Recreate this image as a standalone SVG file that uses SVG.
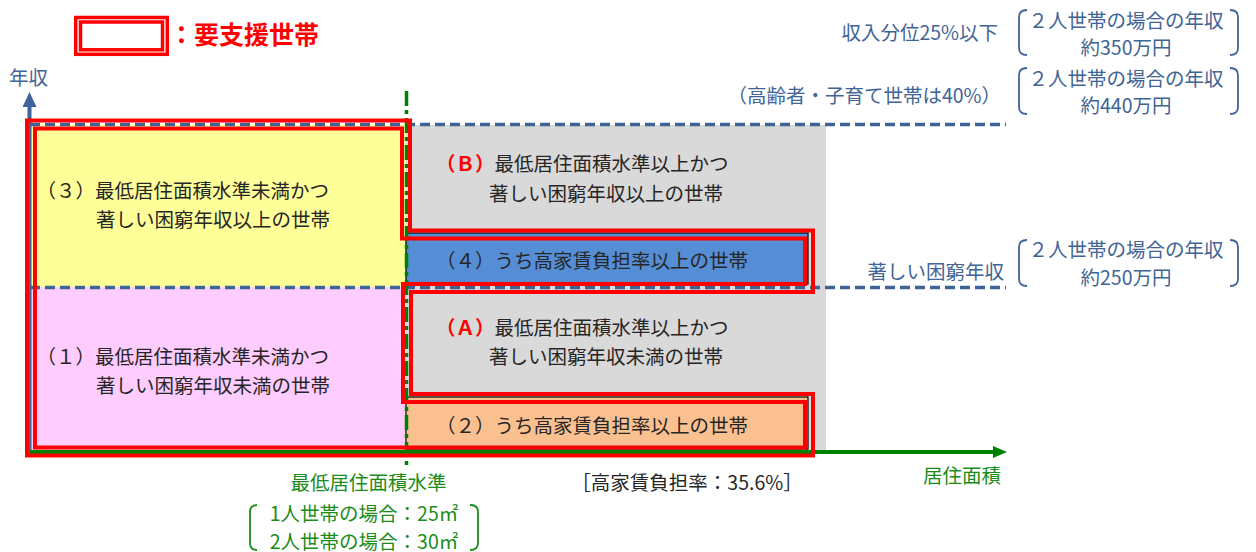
<svg xmlns="http://www.w3.org/2000/svg" width="1256" height="552" viewBox="0 0 1256 552">
<defs>
<style>
text { font-family: "Noto Sans CJK JP", "Noto Sans", sans-serif; font-size: 19.5px; }
.dk { fill: #262626; }
.bl { fill: #3f6495; }
.gr { fill: #1a8c1a; }
.rb { fill: #ff0000; font-weight: bold; }
.big { font-size: 25px; }
.end { text-anchor: end; }
.mid { text-anchor: middle; }
.red2 { fill: none; stroke: #ff0000; stroke-width: 4; stroke-linejoin: miter; }
.redl { fill: none; stroke: #ff0000; stroke-width: 3.5; }
.dash { fill: none; stroke: #3c6496; stroke-width: 3.5; stroke-dasharray: 10 5; }
.brk { fill: none; stroke: #3f6495; stroke-width: 1.8; }
.gbrk { fill: none; stroke: #1a8c1a; stroke-width: 1.8; }
.band { stroke: #000; stroke-width: 1.2; }
</style>
<marker id="arrB" viewBox="0 0 15 14" refX="0" refY="7" markerWidth="15" markerHeight="14" markerUnits="userSpaceOnUse" orient="auto">
<path d="M0,0 L15,7 L0,14 z" fill="#3c6496"/>
</marker>
<marker id="arrG" viewBox="0 0 14 12" refX="0" refY="6" markerWidth="14" markerHeight="12" markerUnits="userSpaceOnUse" orient="auto">
<path d="M0,0 L14,6 L0,12 z" fill="#008000"/>
</marker>
</defs>

<g id="legend">
<rect class="redl" x="75.7" y="17.5" width="91.6" height="36.8"/>
<rect class="redl" x="80.5" y="22" width="82" height="27.8"/>
<text class="rb big" x="169" y="43.5">：要支援世帯</text>
</g>

<g id="region-fills">
<rect x="406" y="125" width="420" height="327" fill="#d9d9d9"/>
<rect x="30" y="124.5" width="376" height="162.5" fill="#ffff99"/>
<rect x="30" y="287" width="376" height="165" fill="#ffccff"/>
</g>

<g id="region-4">
<rect class="band" x="406" y="233" width="402" height="51" fill="#558ed5"/>
</g>
<g id="region-2">
<rect class="band" x="406" y="397" width="402" height="52" fill="#fac090"/>
</g>

<g id="connectors">
<line class="dash" x1="30" y1="124.5" x2="1006" y2="124.5"/>
<line class="dash" x1="30" y1="287.5" x2="1006" y2="287.5"/>
<line x1="406.5" y1="91" x2="406.5" y2="468" stroke="#008000" stroke-width="3.5" stroke-dasharray="15 4 4 4"/>
<line x1="29.5" y1="455" x2="29.5" y2="107" stroke="#3c6496" stroke-width="4" marker-end="url(#arrB)"/>
<line x1="30" y1="452" x2="993" y2="452" stroke="#008000" stroke-width="4" marker-end="url(#arrG)"/>
</g>

<g id="support-outline">
<polygon class="red2" points="27,120.5 410,120.5 410,230.5 813,230.5 813,292 411,292 411,394 813,394 813,455.5 27,455.5"/>
<polygon class="red2" points="35,128.5 402,128.5 402,238.5 805,238.5 805,284 403,284 403,402 805,402 805,447.5 35,447.5"/>
</g>

<g id="label-3">
<text class="dk"><tspan x="36.5" y="197.5">（３）最低居住面積水準未満かつ</tspan><tspan x="96" y="226.5">著しい困窮年収以上の世帯</tspan></text>
</g>
<g id="label-1">
<text class="dk"><tspan x="36.5" y="364">（１）最低居住面積水準未満かつ</tspan><tspan x="96" y="392.5">著しい困窮年収未満の世帯</tspan></text>
</g>
<g id="label-B">
<text class="dk"><tspan x="436" y="170.5"><tspan class="rb">（Ｂ）</tspan>最低居住面積水準以上かつ</tspan><tspan x="489" y="200.5">著しい困窮年収以上の世帯</tspan></text>
</g>
<g id="label-4">
<text class="dk" x="436" y="267.5">（４）うち高家賃負担率以上の世帯</text>
</g>
<g id="label-A">
<text class="dk"><tspan x="436" y="335"><tspan class="rb">（Ａ）</tspan>最低居住面積水準以上かつ</tspan><tspan x="489" y="364">著しい困窮年収未満の世帯</tspan></text>
</g>
<g id="label-2">
<text class="dk" x="436" y="432.5">（２）うち高家賃負担率以上の世帯</text>
</g>

<g id="axis-y-label">
<text class="bl" x="9" y="84.5">年収</text>
</g>

<g id="income-25">
<text class="bl end" x="998" y="40">収入分位25%以下</text>
<path class="brk" d="M1027,10 Q1019,10 1019,17 V48 Q1019,55 1027,55"/>
<path class="brk" d="M1230,10 Q1238,10 1238,17 V48 Q1238,55 1230,55"/>
<text class="bl mid" x="1126" y="27.5">２人世帯の場合の年収</text>
<text class="bl mid" x="1126" y="54.5">約350万円</text>
</g>

<g id="income-40">
<text class="bl end" x="1001" y="103">（高齢者・子育て世帯は40%）</text>
<path class="brk" d="M1027,68 Q1019,68 1019,75 V107 Q1019,114 1027,114"/>
<path class="brk" d="M1230,68 Q1238,68 1238,75 V107 Q1238,114 1230,114"/>
<text class="bl mid" x="1126" y="85.5">２人世帯の場合の年収</text>
<text class="bl mid" x="1126" y="112.5">約440万円</text>
</g>

<g id="income-poverty">
<text class="bl end" x="1004" y="279">著しい困窮年収</text>
<path class="brk" d="M1027,240 Q1019,240 1019,247 V279 Q1019,286 1027,286"/>
<path class="brk" d="M1230,240 Q1238,240 1238,247 V279 Q1238,286 1230,286"/>
<text class="bl mid" x="1126" y="257">２人世帯の場合の年収</text>
<text class="bl mid" x="1126" y="284.5">約250万円</text>
</g>

<g id="min-area">
<text class="gr mid" x="368.5" y="489.5">最低居住面積水準</text>
<path class="gbrk" d="M257,505 Q250,505 250,512 V543 Q250,550 257,550"/>
<path class="gbrk" d="M470,505 Q478,505 478,512 V543 Q478,550 470,550"/>
<text class="gr mid" x="364" y="520.5">1人世帯の場合：25㎡</text>
<text class="gr mid" x="364" y="548.5">2人世帯の場合：30㎡</text>
</g>

<g id="rent-ratio">
<text class="dk mid" x="687" y="489.5">［高家賃負担率：35.6%］</text>
</g>

<g id="axis-x-label">
<text class="gr" x="923" y="482.5">居住面積</text>
</g>
</svg>
